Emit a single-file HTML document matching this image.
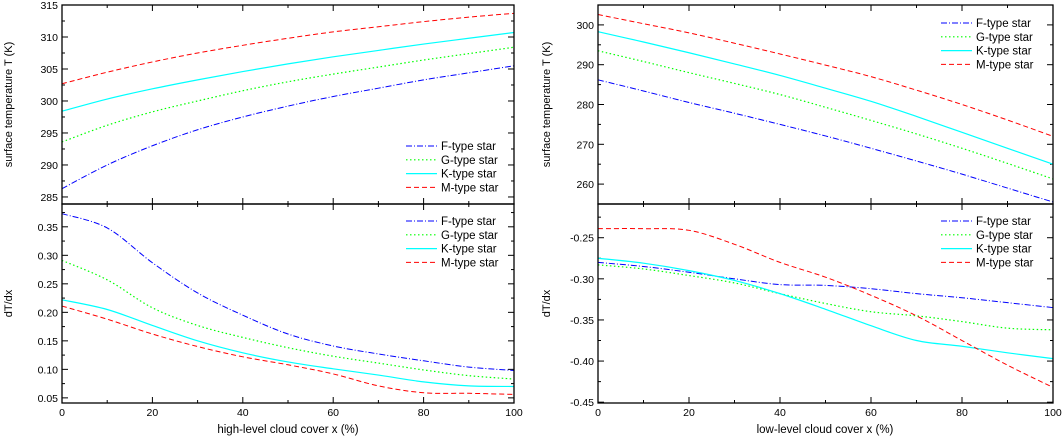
<!DOCTYPE html>
<html><head><meta charset="utf-8"><style>
body{margin:0;background:#fff}
svg{display:block;font-family:"Liberation Sans",sans-serif}
</style></head><body>
<svg id="c" width="1062" height="437" viewBox="0 0 1062 437" xmlns="http://www.w3.org/2000/svg"></svg>
<script>
const xs = [0,10,20,30,40,50,60,70,80,90,100];
const seriesNames = ["F-type star","G-type star","K-type star","M-type star"];
// left top: surface temperature vs high-level cloud cover
const hiT_F = [286.3,290,293,295.5,297.5,299.2,300.7,302,303.3,304.4,305.5];
const hiT_G = [293.6,296.2,298.3,300,301.6,303,304.2,305.3,306.4,307.4,308.4];
const hiT_K = [298.4,300.3,301.9,303.3,304.6,305.8,306.9,307.9,308.9,309.8,310.7];
const hiT_M = [302.7,304.5,306.1,307.5,308.7,309.8,310.8,311.6,312.4,313.1,313.7];
// left bottom: dT/dx
const hiD_F = [0.373,0.348,0.287,0.234,0.195,0.162,0.141,0.127,0.115,0.104,0.098];
const hiD_G = [0.291,0.257,0.208,0.177,0.156,0.138,0.123,0.111,0.099,0.089,0.083];
const hiD_K = [0.222,0.205,0.177,0.150,0.129,0.113,0.101,0.090,0.078,0.071,0.070];
const hiD_M = [0.211,0.188,0.162,0.140,0.122,0.108,0.092,0.071,0.059,0.058,0.056];
// right top
const loT_F = [286.2,283.4,280.5,277.8,275,272.1,269,265.8,262.5,259,255.5];
const loT_G = [293.5,290.8,288,285.3,282.5,279.3,276,272.6,269,265.2,261.3];
const loT_K = [298.3,295.7,293,290.2,287.3,284.1,280.8,277,273,269,265];
const loT_M = [302.6,300.3,298,295.4,292.7,289.9,287,283.6,280,276.1,272];
// right bottom
const loD_F = [-0.28,-0.285,-0.292,-0.30,-0.307,-0.308,-0.312,-0.318,-0.323,-0.329,-0.335];
const loD_G = [-0.283,-0.288,-0.296,-0.305,-0.318,-0.33,-0.34,-0.345,-0.352,-0.36,-0.362];
const loD_K = [-0.275,-0.281,-0.29,-0.302,-0.318,-0.337,-0.357,-0.375,-0.382,-0.39,-0.397];
const loD_M = [-0.239,-0.239,-0.241,-0.258,-0.28,-0.298,-0.32,-0.345,-0.375,-0.405,-0.432];
const xTicks = [0,20,40,60,80,100];
const hiTTicks = [285,290,295,300,305,310,315];
const hiDTicks = [0.05,0.10,0.15,0.20,0.25,0.30,0.35];
const loTTicks = [260,270,280,290,300];
const loDTicks = [-0.45,-0.40,-0.35,-0.30,-0.25];

const NS="http://www.w3.org/2000/svg";
const svg=document.getElementById('c');
const styles=[{c:"#0000ff",d:"6,2,1,2",w:1},{c:"#00ff00",d:"1.5,2.5",w:1.2},{c:"#00ffff",d:"",w:1.2},{c:"#ff0000",d:"5,3",w:1}];
function mk(tag,attrs,parent){const e=document.createElementNS(NS,tag);for(const k in attrs)e.setAttribute(k,attrs[k]);(parent||svg).appendChild(e);return e;}
function smooth(P){
  let d='M'+P[0][0]+','+P[0][1];
  for(let i=0;i<P.length-1;i++){
    const p0=P[Math.max(i-1,0)],p1=P[i],p2=P[i+1],p3=P[Math.min(i+2,P.length-1)];
    const c1=[p1[0]+(p2[0]-p0[0])/6,p1[1]+(p2[1]-p0[1])/6];
    const c2=[p2[0]-(p3[0]-p1[0])/6,p2[1]-(p3[1]-p1[1])/6];
    d+=' C'+c1[0]+','+c1[1]+' '+c2[0]+','+c2[1]+' '+p2[0]+','+p2[1];
  }
  return d;
}

function panel(o){
  const g=mk('g',{});
  
  
  const sx=v=>o.x0+(v-0)/100*(o.x1-o.x0);
  const sy=v=>o.y1-(v-o.ymin)/(o.ymax-o.ymin)*(o.y1-o.y0);
  const tk=mk('g',{stroke:'#000','stroke-width':1},g);
  
  
  for(let v=0;v<=100;v+=10){const X=sx(v),L=v%20==0?6:3;
    mk('line',{x1:X,x2:X,y1:o.y1,y2:o.y1-L},tk);mk('line',{x1:X,x2:X,y1:o.y0,y2:o.y0+L},tk);}
  const step=o.yt[1]-o.yt[0];
  for(let v=o.yt[0]-step;v<=o.ymax+1e-9;v+=step/2){
    if(v<o.ymin-1e-9)continue;
    const Y=sy(v);const maj=o.yt.some(t=>Math.abs(t-v)<1e-9);const L=maj?6:3;
    mk('line',{x1:o.x0,x2:o.x0+L,y1:Y,y2:Y},tk);mk('line',{x1:o.x1,x2:o.x1-L,y1:Y,y2:Y},tk);}
  o.yt.forEach(t=>{const e=mk('text',{x:o.x0-4,y:sy(t)+4,'text-anchor':'end','font-size':10.5,fill:'#000'},g);
    e.textContent=o.dec?t.toFixed(2):String(t);
    });
  if(o.xlab){xTicks.forEach(t=>{const e=mk('text',{x:sx(t),y:o.y1+13,'text-anchor':'middle','font-size':10.5},g);e.textContent=t;
    });}
  const yl=mk('text',{transform:`translate(${o.ylx},${(o.y0+o.y1)/2}) rotate(-90)`,'text-anchor':'middle','font-size':11},g);
  yl.textContent=o.ylabel;
  o.series.forEach((arr,i)=>{const s=styles[i];
    const p=mk('path',{d:smooth(arr.map((v,j)=>[sx(xs[j]),sy(v)])),fill:'none',stroke:s.c,'stroke-width':s.w,'stroke-dasharray':s.d},g);
    
    });
  mk('rect',{x:o.x0,y:o.y0,width:o.x1-o.x0,height:o.y1-o.y0,fill:'none',stroke:'#000','stroke-width':1.3},g);
  const lg=mk('g',{},g);
  
  seriesNames.forEach((n,i)=>{const y=o.ly+i*13.8;const s=styles[i];
    const le=mk('g',{},lg);
    mk('line',{x1:o.lx-35,x2:o.lx-4,y1:y,y2:y,stroke:s.c,'stroke-width':s.w,'stroke-dasharray':s.d},le);
    const t=mk('text',{x:o.lx,y:y+4,'font-size':11.5},le);t.textContent=n;});
}
panel({name:'panel-high-temp',x0:62,x1:514,y0:5,y1:204,ymin:283.9,ymax:315,yt:hiTTicks,series:[hiT_F,hiT_G,hiT_K,hiT_M],ylabel:'surface temperature T (K)',ylx:12,lx:441,ly:146});
panel({name:'panel-high-deriv',x0:62,x1:514,y0:204,y1:403,ymin:0.041,ymax:0.390,yt:hiDTicks,dec:true,series:[hiD_F,hiD_G,hiD_K,hiD_M],ylabel:'dT/dx',ylx:12,lx:441,ly:221,xlab:true});
panel({name:'panel-low-temp',x0:598,x1:1053,y0:5,y1:204,ymin:255,ymax:305,yt:loTTicks,series:[loT_F,loT_G,loT_K,loT_M],ylabel:'surface temperature T (K)',ylx:550,lx:976,ly:23});
panel({name:'panel-low-deriv',x0:598,x1:1053,y0:204,y1:403,ymin:-0.451,ymax:-0.209,yt:loDTicks,dec:true,series:[loD_F,loD_G,loD_K,loD_M],ylabel:'dT/dx',ylx:550,lx:976,ly:221,xlab:true});
const x1=mk('text',{x:288,y:433,'text-anchor':'middle','font-size':11.5});x1.textContent='high-level cloud cover x (%)';

const x2=mk('text',{x:825,y:433,'text-anchor':'middle','font-size':11.5});x2.textContent='low-level cloud cover x (%)';

</script>
</body></html>
